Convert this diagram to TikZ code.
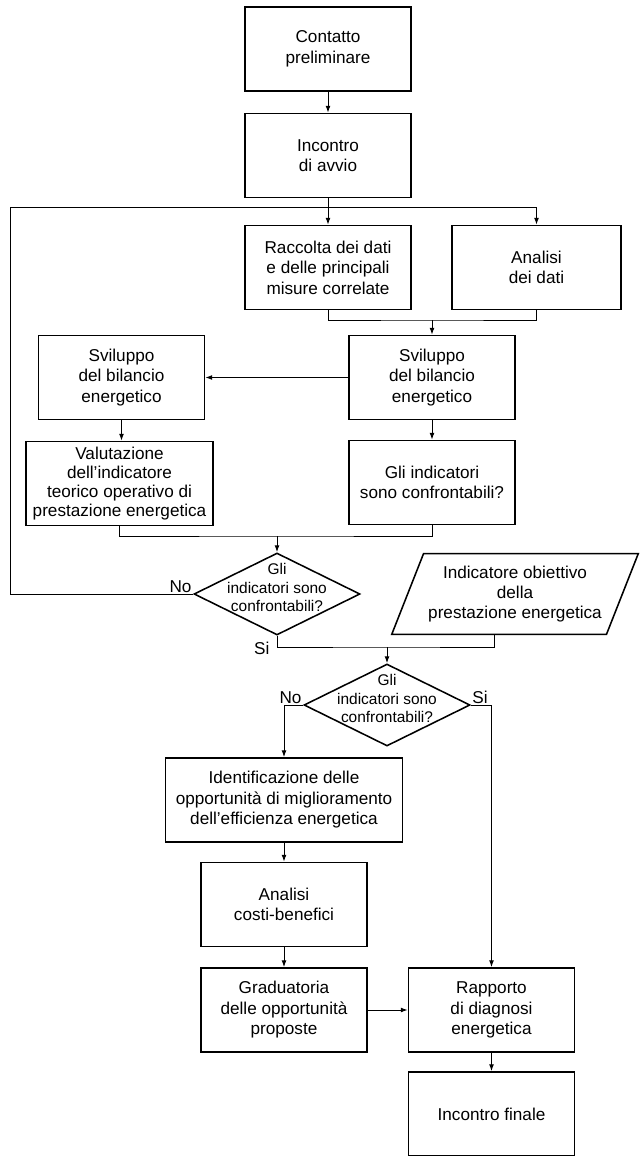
\documentclass[tikz,border=0pt]{standalone}
\usepackage{fontspec}
\setmainfont{Liberation Sans}
\usetikzlibrary{shapes.geometric,arrows.meta,positioning,calc}

\begin{document}
\begin{tikzpicture}[x=0.025cm, y=-0.025cm,
    box/.style={rectangle, draw, line width=1.1pt, minimum width=4.15cm,
        minimum height=2.1cm, font=\fontsize{12.2}{14.6}\selectfont,
        inner sep=2pt, align=center},
    decision/.style={diamond, draw, line width=1.1pt, minimum width=4.15cm,
        minimum height=2.05cm, inner sep=0pt},
    dtext/.style={font=\fontsize{11}{13}\selectfont, align=center,
        inner sep=0pt, yshift=4.5pt},
    datum/.style={trapezium, trapezium left angle=68.5, trapezium right angle=111.5,
        trapezium stretches, draw, line width=1.1pt, minimum width=6cm,
        inner ysep=9pt, font=\fontsize{12.2}{14}\selectfont, align=center},
    arr/.style={-{Latex[length=1.7mm,width=1.2mm]}, line width=0.7pt},
    lnk/.style={line width=0.7pt},
    lbl/.style={font=\fontsize{12.2}{14}\selectfont, inner sep=1pt}
]
    \useasboundingbox (0,0) rectangle (639,1156);

    % fase iniziale
    \node[box] (contatto) at (328,49) {Contatto\\preliminare};
    \node[box] (avvio) at (328,155.5) {Incontro\\di avvio};
    \node[box] (raccolta) at (328,267.5) {Raccolta dei dati\\e delle principali\\misure correlate};
    \node[box, minimum width=4.225cm] (analisi) at (536.5,267.5) {Analisi\\dei dati};
    \node[box] (svilR) at (432,377.5) {Sviluppo\\del bilancio\\energetico};
    \node[box] (svilL) at (121.5,377.5) {Sviluppo\\del bilancio\\energetico};
    \node[box, minimum width=4.675cm, inner sep=1pt,
        font=\fontsize{12.2}{13.7}\selectfont] (valut) at (119.5,483.5)
        {Valutazione\\dell'indicatore\\teorico operativo di\\prestazione energetica};
    \node[box] (gliBox) at (432,482.5) {Gli indicatori\\sono confrontabili?};

    % confronti
    \node[decision, label={[dtext]center:{Gli\\indicatori sono\\confrontabili?}}] (dec1) at (277,594) {};
    \node[datum] (obiettivo) at (515,594) {Indicatore obiettivo\\della\\prestazione energetica};
    \node[decision, label={[dtext]center:{Gli\\indicatori sono\\confrontabili?}}] (dec2) at (387,705) {};

    % fase finale
    \node[box, minimum width=5.925cm] (ident) at (284,800) {Identificazione delle\\opportunità di miglioramento\\dell'efficienza energetica};
    \node[box] (costi) at (284,904.5) {Analisi\\costi-benefici};
    \node[box] (grad) at (284,1010) {Graduatoria\\delle opportunità\\proposte};
    \node[box] (rapporto) at (491.5,1010) {Rapporto\\di diagnosi\\energetica};
    \node[box] (finale) at (491.5,1114) {Incontro finale};

    \node[lbl, above left] (no1) at (dec1.west) {No};
    \node[lbl, left] (si1) at ($(dec1.south)+(-6,13)$) {Si};
    \node[lbl, above left] (no2) at (dec2.west) {No};
    \node[lbl, above right] (si2) at (dec2.east) {Si};

    \coordinate (ritorno) at (10,207);
    \coordinate (unione1) at (432,320);
    \coordinate (unione2) at (277,536);
    \coordinate (unione3) at (387,647);

    \draw[arr] (contatto) -- (avvio);
    \draw[arr] (avvio) -- (raccolta);
    \draw[arr] (dec1.west) -| (ritorno) -| (analisi.north);
    \draw[lnk] (raccolta.south) |- (unione1) -| (analisi.south);
    \draw[arr] (unione1) -- (svilR.north);
    \draw[arr] (svilR) -- (svilL);
    \draw[arr] (svilL.south) -- (svilL.south |- valut.north);
    \draw[arr] (svilR) -- (gliBox);
    \draw[lnk] (valut.south) |- (unione2) -| (gliBox.south);
    \draw[arr] (unione2) -- (dec1.north);
    \draw[lnk] (dec1.south) |- (unione3)
        -| ($(obiettivo.bottom left corner)!.48!(obiettivo.bottom right corner)$);
    \draw[arr] (unione3) -- (dec2.north);
    \draw[arr] (dec2.west) -| (ident.north);
    \draw[arr] (dec2.east) -| (rapporto.north);
    \draw[arr] (ident) -- (costi);
    \draw[arr] (costi) -- (grad);
    \draw[arr] (grad) -- (rapporto);
    \draw[arr] (rapporto) -- (finale);
\end{tikzpicture}
\end{document}
